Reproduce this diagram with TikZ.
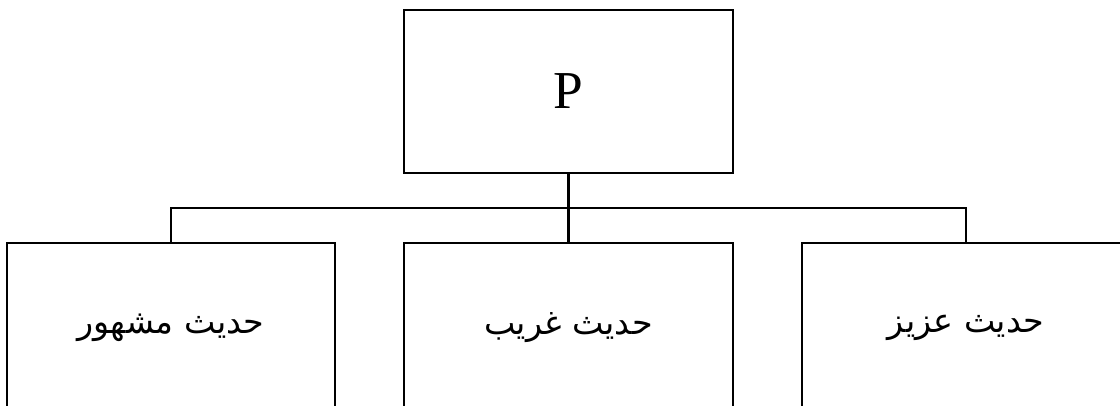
\documentclass[tikz,border=0pt]{standalone}
\usepackage{fontspec}
\setmainfont{Liberation Serif}
\newfontfamily\arabicfont[Script=Arabic]{DejaVu Sans}
\TeXXeTstate=1
\begin{document}
\begin{tikzpicture}[x=0.75pt,y=-0.75pt,
  box/.style={draw=black,line width=1.6pt,rectangle,minimum width=246.5pt,minimum height=122pt,inner sep=0pt},
  lowbox/.style={box,minimum height=128pt},
  conn/.style={draw=black,line width=1.6pt},
  ptext/.style={font=\fontsize{40}{46}\selectfont},
  atext/.style={font=\arabicfont\fontsize{25}{30}\selectfont}]
\useasboundingbox (0,0) rectangle (1120,405);
\node[box,ptext] (top) at (568.5,91.5) {P};
\node[lowbox,atext] (l) at (171,328) {\beginR حديث مشهور\endR};
\node[lowbox,atext] (m) at (568.5,328) {\beginR حديث غريب\endR};
\node[lowbox,atext] (r) at (966,328) {\beginR حديث عزيز\endR};
\coordinate (j) at (568.5,208);
\draw[conn] (top.south) -- (j);
\draw[conn] (j) -- (m.north);
\draw[conn] (l.north) |- (j) -| (r.north);
\end{tikzpicture}
\end{document}
